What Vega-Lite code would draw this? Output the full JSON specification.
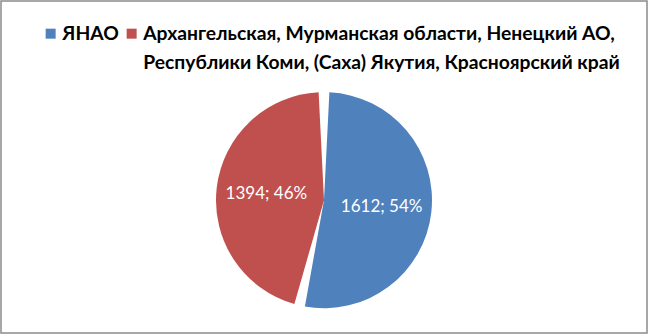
{
  "$schema": "https://vega.github.io/schema/vega-lite/v6.json",
  "width": 648,
  "height": 334,
  "autosize": {"type": "fit", "contains": "padding"},
  "padding": 1,
  "background": "white",
  "view": {"stroke": "#8c8c8c", "strokeWidth": 1.5},
  "config": {
    "view": {"stroke": "#8c8c8c", "strokeWidth": 1.5},
    "font": "Lato",
    "style": {"guide-label": {"lineHeight": 29, "dy": 6}}
  },
  "data": {
    "values": [
      {"region": "ЯНАО|", "value": 1612},
      {"region": "Архангельская, Мурманская области, Ненецкий АО,|Республики Коми, (Саха) Якутия, Красноярский край", "value": 1394}
    ]
  },
  "transform": [
    {"joinaggregate": [{"op": "sum", "field": "value", "as": "total"}]},
    {"calculate": "format(datum.value, 'd') + '; ' + format(datum.value / datum.total, '.0%')", "as": "label"}
  ],
  "encoding": {
    "theta": {"field": "value", "type": "quantitative", "stack": true},
    "order": {"field": "value", "type": "quantitative", "sort": "descending"},
    "color": {
      "field": "region",
      "type": "nominal",
      "sort": ["ЯНАО|"],
      "scale": {"range": ["#4F81BD", "#C0504D"]},
      "legend": {
        "title": null,
        "orient": "none",
        "legendX": 40,
        "legendY": 23,
        "direction": "horizontal",
        "symbolType": "square",
        "symbolSize": 100,
        "labelFontSize": 19.3,
        "labelFontWeight": "bold",
        "labelFont": "Lato",
        "labelColor": "#000000",
        "labelLimit": 600,
        "labelOffset": 2,
        "labelBaseline": "alphabetic",
        "columnPadding": 3,
        "labelExpr": "split(datum.label, '|')"
      }
    }
  },
  "layer": [
    {
      "mark": {"type": "arc", "outerRadius": 108, "padAngle": 0.1, "y": {"expr": "height * 0.6"}, "stroke": null}
    },
    {
      "mark": {"type": "text", "radius": 58, "fontSize": 17, "font": "Lato", "y": {"expr": "height * 0.6"}},
      "encoding": {"text": {"field": "label"}, "color": {"value": "white"}}
    }
  ]
}
